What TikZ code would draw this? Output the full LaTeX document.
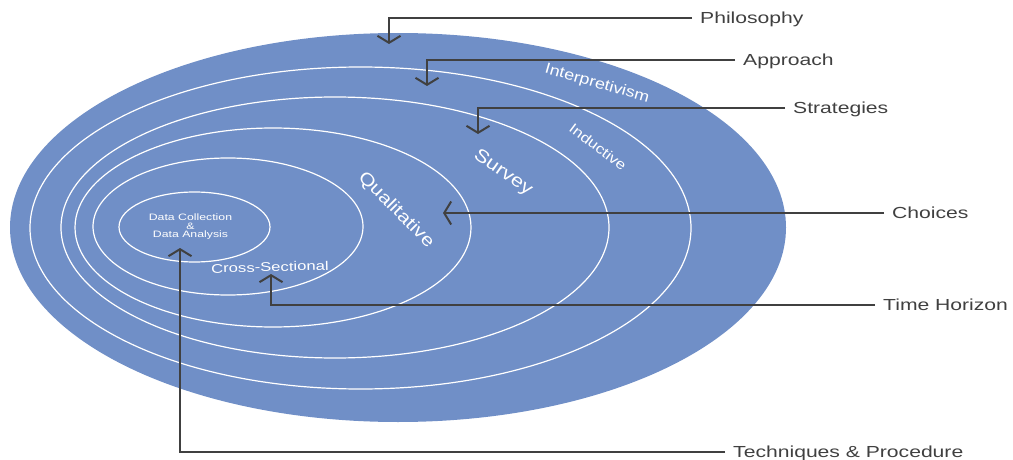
\documentclass[tikz,border=0pt]{standalone}
\usepackage{fontspec}
\setmainfont{Liberation Sans}
\newfontfamily\widefont[FakeStretch=1.32]{Liberation Sans}
\newfontfamily\ringfont[FakeStretch=1.2]{Liberation Sans}
\usetikzlibrary{arrows.meta}
\definecolor{onionblue}{RGB}{112,143,199}
\definecolor{pointer}{RGB}{64,64,64}

\begin{document}
\begin{tikzpicture}[
    x=1pt, y=-1pt,
    % styles for the onion layers
    layer/.style={fill=onionblue},
    ring/.style={draw=white, line width=1.2pt},
    inlabel/.style={text=white, inner sep=0pt},
    % styles for the outside labels and pointers
    tag/.style={anchor=west, inner xsep=8pt, inner ysep=0pt, text height=11.5pt, text depth=0pt, text=pointer, font=\widefont\fontsize{16}{16}\selectfont},
    arrow/.style={-{Straight Barb[length=7pt, width=23pt]}, line width=2pt, draw=pointer}
]
\useasboundingbox (0,0) rectangle (1013,460);

% Layers (outer to inner)
\fill [layer] (398,227.5) ellipse [x radius=388pt, y radius=194.5pt];
\draw [ring] (360.5,228) ellipse [x radius=330.5pt, y radius=161pt];
\draw [ring] (335,227.5) ellipse [x radius=274pt, y radius=130.5pt];
\draw [ring] (273,227.5) ellipse [x radius=198pt, y radius=99.5pt];
\draw [ring] (228,226.5) ellipse [x radius=135pt, y radius=68.5pt];
\draw [ring] (194.5,227) ellipse [x radius=75.5pt, y radius=35pt];

% Texts inside the layers
\node (interpretivism) [inlabel, rotate=-16, font=\ringfont\fontsize{15}{15}\selectfont] at (597,84) {Interpretivism};
\node (inductive) [inlabel, rotate=-37, font=\ringfont\fontsize{14}{14}\selectfont] at (598,147) {Inductive};
\node (survey) [inlabel, rotate=-35, font=\ringfont\fontsize{18}{18}\selectfont] at (503,173) {Survey};
\node (qualitative) [inlabel, rotate=-45, font=\ringfont\fontsize{17.5}{17.5}\selectfont] at (396,210) {Qualitative};
\node (crosssectional) [inlabel, rotate=1.5, font=\widefont\fontsize{12.6}{12.6}\selectfont] at (270,267) {Cross-Sectional};
\node (datacollection) [inlabel, align=center, font=\widefont\fontsize{9.3}{8.5}\selectfont] at (190.5,227) {Data Collection\\\&\\Data Analysis};

% Labels on the right
\node (philosophy) [tag] at (692,18) {Philosophy};
\node (approach) [tag] at (735,60) {Approach};
\node (strategies) [tag] at (785,108) {Strategies};
\node (choices) [tag] at (884,213) {Choices};
\node (horizon) [tag] at (875,305) {Time Horizon};
\node (techniques) [tag] at (725,452) {Techniques \& Procedure};

% Arrow tips inside the layers
\coordinate (philosophytip) at (389,44);
\coordinate (approachtip) at (427,86);
\coordinate (strategiestip) at (478,134);
\coordinate (choicestip) at (443,213);
\coordinate (horizontip) at (271,274);
\coordinate (techniquestip) at (180,248);

% Pointers from the labels into the layers
\draw [arrow] (philosophy.west) -| (philosophytip);
\draw [arrow] (approach.west) -| (approachtip);
\draw [arrow] (strategies.west) -| (strategiestip);
\draw [arrow] (choices.west) -- (choicestip);
\draw [arrow] (horizon.west) -| (horizontip);
\draw [arrow] (techniques.west) -| (techniquestip);

\end{tikzpicture}
\end{document}
